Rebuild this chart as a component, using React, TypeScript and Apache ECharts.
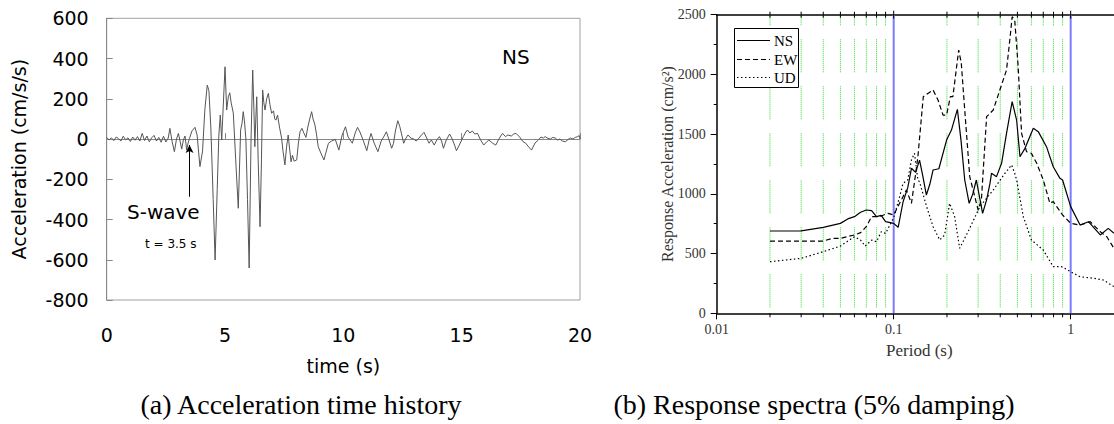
import React, { useEffect, useRef } from "react";
import * as echarts from "echarts";

// (a) Acceleration time history, NS component: [time (s), acceleration (cm/s/s)]
const accelNS: [number, number][] = [
  [0, 8], [0.1, -5], [0.2, 6], [0.3, -8], [0.4, 10], [0.5, 2], [0.6, -10], [0.7, 14], [0.8, -4], [0.9, 6],
  [1.0, -12], [1.1, 10], [1.2, -6], [1.3, 12], [1.4, -10], [1.5, 28], [1.6, -8], [1.7, 15], [1.8, -14], [1.9, 6],
  [2.0, 18], [2.1, -10], [2.2, 8], [2.3, -16], [2.4, 14], [2.5, -15], [2.6, 5], [2.67, 53], [2.76, -10], [2.86, -63],
  [2.95, 0], [3.03, 28], [3.1, -10], [3.17, -50], [3.24, -5], [3.31, 15], [3.38, -55], [3.44, -20],
  [3.5, 3], [3.6, 40], [3.73, 58], [3.82, 20], [3.94, -137], [4.05, -60], [4.15, 150], [4.25, 268], [4.32, 240],
  [4.4, 60], [4.5, -300], [4.58, -601], [4.67, -250], [4.74, 20], [4.8, 119], [4.86, -5], [5.0, 359], [5.07, 144],
  [5.14, 210], [5.2, 230], [5.26, 180], [5.35, 129], [5.45, -100], [5.56, -344], [5.66, 45], [5.72, 80], [5.77, 136],
  [5.82, 90], [5.88, 5], [5.95, -300], [6.02, -641], [6.1, 0], [6.17, 343], [6.22, 150], [6.26, -38], [6.3, 100],
  [6.34, 210], [6.4, -100], [6.48, -436], [6.54, -100], [6.59, 244], [6.64, 180], [6.69, 144], [6.76, 200], [6.83, 227],
  [6.9, 170], [6.97, 128], [7.05, 140], [7.1, 100], [7.15, 94], [7.22, 119], [7.3, 60], [7.39, 5], [7.45, -60],
  [7.53, -129], [7.6, -40], [7.67, 20], [7.72, -40], [7.79, -113], [7.85, -80], [7.92, -110], [8.03, -104], [8.1, -20],
  [8.17, 36], [8.25, 53], [8.33, 30], [8.42, 8], [8.5, 60], [8.58, 100], [8.66, 136], [8.72, 100], [8.8, 70],
  [8.87, 20], [8.94, -38], [9.05, -70], [9.18, -104], [9.28, -60], [9.37, -21], [9.5, -10], [9.66, -2], [9.81, -55],
  [9.95, 20], [10.09, 61], [10.2, 10], [10.38, -21], [10.5, 30], [10.6, 58], [10.7, 35], [10.85, -10], [10.99, -58],
  [11.1, 0], [11.17, 28], [11.3, -20], [11.46, -63], [11.6, -10], [11.7, 10], [11.82, 36], [11.92, 0], [12.04, -46],
  [12.12, -21], [12.2, 40], [12.3, 91], [12.38, 64], [12.47, 20], [12.55, -21], [12.65, 5], [12.73, 20], [12.85, 5],
  [12.97, 0], [13.08, -10], [13.2, 5], [13.3, 20], [13.41, 33], [13.5, 10], [13.62, -21], [13.72, -5], [13.84, -30],
  [13.95, -5], [14.06, 12], [14.15, -10], [14.23, -46], [14.35, -5], [14.49, 25], [14.6, 0], [14.7, -30], [14.78, -58],
  [14.9, -30], [15.0, -5], [15.07, 12], [15.15, 30], [15.24, 45], [15.35, 30], [15.45, 40], [15.55, 25], [15.67, 28],
  [15.8, -5], [15.93, -30], [16.05, -15], [16.15, -5], [16.3, -20], [16.44, -30], [16.55, -5], [16.65, 15], [16.73, 28],
  [16.85, 12], [16.95, 20], [17.1, 15], [17.2, 25], [17.3, 28], [17.45, 10], [17.59, -13], [17.7, -20], [17.8, -35],
  [17.95, -55], [18.1, -20], [18.24, -5], [18.35, 10], [18.45, 5], [18.53, 12], [18.65, 3], [18.75, 0], [18.85, 8],
  [18.95, 5], [19.05, -5], [19.15, 0], [19.25, -10], [19.39, -13], [19.5, -2], [19.6, 5], [19.7, 0], [19.8, 8],
  [19.9, 12], [19.97, 17], [20.0, 0],
];

// S-wave arrival arrow: time, from, to
const sWaveArrow = { t: 3.5, from: -287, to: -30 };

// (b) Response spectra (5% damping): [period (s), Sa (cm/s²)]
const spectrumNS: [number, number][] = [
  [0.02, 689], [0.03, 690], [0.04, 720], [0.05, 753], [0.055, 790], [0.06, 809], [0.065, 846], [0.07, 865],
  [0.075, 860], [0.08, 810], [0.085, 820], [0.09, 767], [0.1, 753], [0.106, 720], [0.113, 934], [0.12, 1050],
  [0.126, 1214], [0.133, 1180], [0.14, 1283], [0.146, 1150], [0.153, 990], [0.16, 1080], [0.167, 1200], [0.18, 1210],
  [0.199, 1450], [0.212, 1534], [0.229, 1708], [0.24, 1450], [0.252, 1116], [0.267, 921], [0.28, 1000], [0.293, 1116],
  [0.318, 837], [0.335, 950], [0.35, 1088], [0.357, 1172], [0.381, 1144], [0.407, 1256], [0.434, 1507], [0.467, 1772],
  [0.495, 1618], [0.517, 1311], [0.552, 1381], [0.615, 1549], [0.656, 1521], [0.73, 1395], [0.797, 1227], [0.87, 1130],
  [0.9, 1116], [1.0, 893], [1.13, 739], [1.26, 767], [1.47, 656], [1.63, 711], [1.757, 670],
];
const spectrumEW: [number, number][] = [
  [0.02, 605], [0.03, 605], [0.04, 605], [0.045, 627], [0.05, 627], [0.06, 656], [0.065, 675], [0.07, 725],
  [0.075, 809], [0.08, 809], [0.085, 815], [0.093, 837], [0.1, 823], [0.108, 921], [0.118, 1032], [0.126, 921],
  [0.134, 1200], [0.137, 1311], [0.147, 1814], [0.156, 1841], [0.167, 1870], [0.178, 1786], [0.19, 1660], [0.199, 1660],
  [0.209, 1814], [0.216, 1814], [0.233, 2204], [0.241, 2093], [0.252, 1702], [0.269, 1144], [0.281, 1032], [0.3, 865],
  [0.313, 950], [0.335, 1646], [0.365, 1702], [0.395, 1855], [0.434, 2037], [0.453, 2288], [0.467, 2483], [0.483, 2455],
  [0.505, 2065], [0.528, 1507], [0.563, 1353], [0.6, 1339], [0.643, 1256], [0.7, 1116], [0.763, 921], [0.797, 935],
  [0.9, 823], [1.0, 753], [1.13, 739], [1.29, 767], [1.47, 683], [1.6, 641], [1.757, 544],
];
const spectrumUD: [number, number][] = [
  [0.02, 432], [0.03, 460], [0.04, 516], [0.05, 563], [0.06, 641], [0.065, 613], [0.069, 563], [0.075, 613],
  [0.08, 599], [0.085, 683], [0.09, 669], [0.1, 800], [0.108, 976], [0.113, 1088], [0.12, 1116], [0.126, 1283],
  [0.131, 1339], [0.137, 1116], [0.14, 1100], [0.153, 900], [0.167, 725], [0.182, 614], [0.194, 656], [0.207, 921],
  [0.221, 809], [0.236, 544], [0.263, 683], [0.307, 893], [0.365, 1032], [0.425, 1172], [0.464, 1242], [0.483, 1172],
  [0.495, 1116], [0.54, 809], [0.6, 614], [0.7, 530], [0.797, 390], [0.89, 390], [1.0, 348], [1.13, 306],
  [1.35, 293], [1.53, 279], [1.757, 223],
];

const spectrumNames = ["NS", "EW", "UD"];
const minorPeriods = [0.02, 0.03, 0.04, 0.05, 0.06, 0.07, 0.08, 0.09, 0.2, 0.3, 0.4, 0.5, 0.6, 0.7, 0.8, 0.9];
const decadePeriods = [0.1, 1];
const periodLabels = ["0.01", "0.1", "1"];

const captionA = "(a) Acceleration time history";
const captionB = "(b) Response spectra (5% damping)";

const SANS = "'DejaVu Sans', sans-serif";
const SERIF = "'Liberation Serif', serif";

// dotted segments (33px) separated by 14px gaps
const greenDash: number[] = [];
for (let i = 0; i < 16; i++) greenDash.push(1, 1);
greenDash.push(1, 14);

const lineDashes: any[] = [null, [5, 3], [1.5, 2.5]];

export default function App() {
  const ref = useRef<HTMLDivElement>(null);
  useEffect(() => {
    if (!ref.current) return;
    const chart = echarts.init(ref.current, null, { renderer: "svg" });
    const SA_MAX = 2500;

    // legend box drawn as graphics
    const lgX = 734, lgY = 28, lgW = 64, lgH = 59;
    const rowY = [40, 59, 77];
    const legendEls: any[] = [
      { type: "rect", z: 100, shape: { x: lgX + 0.5, y: lgY + 0.5, width: lgW, height: lgH }, style: { fill: "#fff", stroke: "#000", lineWidth: 1 } },
    ];
    spectrumNames.forEach((n, i) => {
      legendEls.push({
        type: "line", z: 101,
        shape: { x1: lgX + 3, y1: rowY[i] + 0.5, x2: lgX + 36, y2: rowY[i] + 0.5 },
        style: { stroke: "#000", lineWidth: 1.2, lineDash: lineDashes[i] || undefined },
      });
      legendEls.push({
        type: "text", z: 101, x: lgX + 40, y: rowY[i] + 1,
        style: { text: n, font: `15px ${SERIF}`, fill: "#000", verticalAlign: "middle" },
      });
    });

    const option: any = {
      animation: false,
      backgroundColor: "#fff",
      grid: [
        { left: 106.7, top: 18.3, width: 473.3, height: 281.7, show: true, borderColor: "#a0a0a0", borderWidth: 1 },
        { left: 716.7, top: 14.7, right: 0, height: 298.6 },
      ],
      xAxis: [
        {
          gridIndex: 0, type: "value", min: 0, max: 20, interval: 5,
          name: "time (s)", nameLocation: "middle", nameGap: 56,
          nameTextStyle: { fontFamily: SANS, fontSize: 19, color: "#000" },
          axisLine: { lineStyle: { color: "#888", width: 1 } },
          axisTick: { inside: true, length: 6, lineStyle: { color: "#888" } },
          axisLabel: { fontFamily: SANS, fontSize: 19, color: "#000", margin: 25 },
          splitLine: { show: false },
        },
        {
          gridIndex: 1, type: "log", logBase: 10, min: 0.01, max: 1.757,
          name: "Period (s)", nameLocation: "middle", nameGap: 29,
          nameTextStyle: { fontFamily: SERIF, fontSize: 17, color: "#333", padding: [0, 0, 0, 8] },
          axisLine: { lineStyle: { color: "#000", width: 1.5 } },
          axisTick: { length: 6, lineStyle: { color: "#000" } },
          axisLabel: {
            fontFamily: SERIF, fontSize: 14, color: "#333", margin: 9, showMaxLabel: false,
            formatter: (v: number) => (v < 0.015 ? periodLabels[0] : v < 0.15 ? periodLabels[1] : v < 1.5 ? periodLabels[2] : ""),
          },
          splitLine: { show: false },
        },
        {
          gridIndex: 1, type: "log", logBase: 10, min: 0.01, max: 1.757, position: "top",
          axisLine: { lineStyle: { color: "#000", width: 1.5 } },
          axisTick: { show: false }, axisLabel: { show: false }, splitLine: { show: false },
        },
      ],
      yAxis: [
        {
          gridIndex: 0, type: "value", min: -800, max: 600, interval: 200,
          name: "Acceleration (cm/s/s)", nameLocation: "middle", nameGap: 78,
          nameTextStyle: { fontFamily: SANS, fontSize: 19, color: "#000" },
          axisLine: { show: true, lineStyle: { color: "#888", width: 1 } },
          axisTick: { show: true, inside: true, length: 6, lineStyle: { color: "#888" } },
          axisLabel: { fontFamily: SANS, fontSize: 19, color: "#000", margin: 18 },
          splitLine: { show: false },
        },
        {
          gridIndex: 1, type: "value", min: 0, max: SA_MAX, interval: 500,
          name: "Response Acceleration (cm/s²)", nameLocation: "middle", nameGap: 41, nameMoveOverlap: false,
          nameTextStyle: { fontFamily: SERIF, fontSize: 16, color: "#333" },
          axisLine: { show: true, lineStyle: { color: "#000", width: 1.5 } },
          axisTick: { show: true, length: 6, lineStyle: { color: "#000" } },
          minorTick: { show: true, splitNumber: 2, length: 3, lineStyle: { color: "#000" } },
          axisLabel: { fontFamily: SERIF, fontSize: 14, color: "#333", margin: 11, formatter: (v: number) => String(v) },
          splitLine: { show: false },
        },
      ],
      graphic: [
        { type: "text", left: 502, top: 47, style: { text: "NS", font: `20px ${SANS}`, fill: "#000" } },
        { type: "text", left: 127, top: 202, style: { text: "S-wave", font: `20px ${SANS}`, fill: "#000" } },
        { type: "text", left: 145, top: 238, style: { text: "t = 3.5 s", font: `12px ${SANS}`, fill: "#000" } },
        { type: "text", x: 301, y: 404, style: { text: captionA, font: `28px ${SERIF}`, fill: "#000", align: "center", verticalAlign: "middle" } },
        { type: "text", x: 814, y: 404, style: { text: captionB, font: `28px ${SERIF}`, fill: "#000", align: "center", verticalAlign: "middle" } },
        ...legendEls,
      ],
      series: [
        {
          type: "line", xAxisIndex: 0, yAxisIndex: 0, data: accelNS, symbol: "none",
          lineStyle: { color: "#555", width: 1 }, silent: true,
          markLine: {
            silent: true, symbol: ["none", "arrow"], symbolSize: [6, 8],
            label: { show: false },
            lineStyle: { color: "#000", width: 1, type: "solid" },
            data: [[{ coord: [sWaveArrow.t, sWaveArrow.from] }, { coord: [sWaveArrow.t, sWaveArrow.to] }]],
          },
        },
        {
          type: "custom", xAxisIndex: 1, yAxisIndex: 1, clip: false, silent: true, z: 1,
          data: minorPeriods.map((p) => [p, 0]), encode: { x: 0, y: 1 },
          renderItem: (_params: any, api: any) => {
            const p = api.value(0);
            const b = api.coord([p, 0]);
            const t = api.coord([p, SA_MAX]);
            return {
              type: "group",
              children: [
                { type: "line", shape: { x1: b[0], y1: b[1], x2: t[0], y2: t[1] }, style: { stroke: "#2fdc2f", lineWidth: 1, lineDash: greenDash, lineDashOffset: 41 } },
                { type: "line", shape: { x1: b[0], y1: b[1], x2: b[0], y2: b[1] + 4 }, style: { stroke: "#000", lineWidth: 1 } },
                { type: "line", shape: { x1: t[0], y1: t[1] - 3, x2: t[0], y2: t[1] + 3 }, style: { stroke: "#000", lineWidth: 1 } },
              ],
            };
          },
        },
        {
          type: "custom", xAxisIndex: 1, yAxisIndex: 1, clip: false, silent: true, z: 1,
          data: decadePeriods.map((p) => [p, 0]), encode: { x: 0, y: 1 },
          renderItem: (_params: any, api: any) => {
            const p = api.value(0);
            const b = api.coord([p, 0]);
            const t = api.coord([p, SA_MAX]);
            return {
              type: "group",
              children: [
                { type: "line", shape: { x1: b[0], y1: b[1], x2: t[0], y2: t[1] }, style: { stroke: "#7b7bff", lineWidth: 2 } },
                { type: "line", shape: { x1: t[0], y1: t[1] - 4, x2: t[0], y2: t[1] + 4 }, style: { stroke: "#000", lineWidth: 1 } },
              ],
            };
          },
        },
        {
          name: spectrumNames[0], type: "line", xAxisIndex: 1, yAxisIndex: 1, data: spectrumNS, symbol: "none", z: 3,
          lineStyle: { color: "#000", width: 1.2, type: "solid" },
        },
        {
          name: spectrumNames[1], type: "line", xAxisIndex: 1, yAxisIndex: 1, data: spectrumEW, symbol: "none", z: 3,
          lineStyle: { color: "#000", width: 1.2, type: lineDashes[1] },
        },
        {
          name: spectrumNames[2], type: "line", xAxisIndex: 1, yAxisIndex: 1, data: spectrumUD, symbol: "none", z: 3,
          lineStyle: { color: "#000", width: 1.2, type: lineDashes[2] },
        },
      ],
    };
    chart.setOption(option);
    return () => chart.dispose();
  }, []);
  return <div ref={ref} style={{ position: "fixed", left: 0, top: 0, width: 1114, height: 424 }} />;
}
